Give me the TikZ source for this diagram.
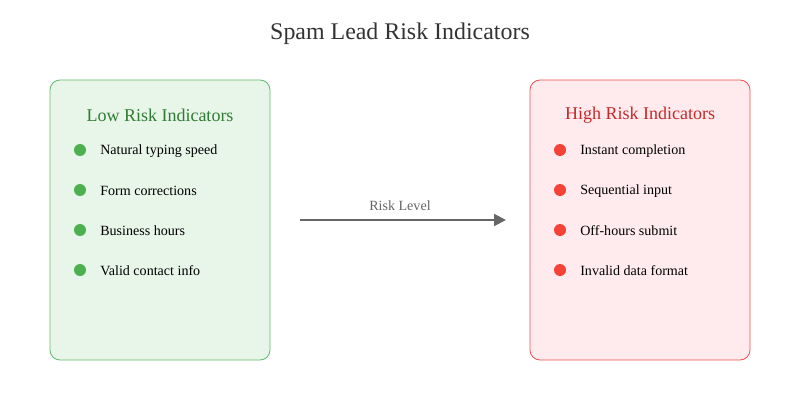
\documentclass[tikz,border=0pt]{standalone}
\usepackage{fontspec}
\setmainfont{Liberation Serif}
\usepackage{xcolor}
\usetikzlibrary{arrows.meta}
\definecolor{lowfill}{HTML}{E8F5E9}
\definecolor{lowline}{HTML}{66BB6A}
\definecolor{lowtext}{HTML}{2E7D32}
\definecolor{lowdot}{HTML}{4CAF50}
\definecolor{highfill}{HTML}{FFEBEE}
\definecolor{highline}{HTML}{EF5350}
\definecolor{hightext}{HTML}{C62828}
\definecolor{highdot}{HTML}{F44336}
\definecolor{arrowgray}{HTML}{666666}
\tikzset{
  panel/.style={rounded corners=10*0.025cm, line width=0.6pt},
  item/.style={anchor=west, inner sep=0pt, font=\fontsize{10}{12}\selectfont},
  head/.style={font=\fontsize{12.8}{15}\selectfont},
}
\begin{document}
\begin{tikzpicture}[x=0.025cm, y=-0.025cm]
		\useasboundingbox (0,0) rectangle (800,400);
		\node[font=\fontsize{17}{20}\selectfont, text=black!80] (title) at (400,34) {Spam Lead Risk Indicators};
		
		\draw[panel, fill=lowfill, draw=lowline] (50,80) rectangle (270,360);
		\draw[panel, fill=highfill, draw=highline] (530,80) rectangle (750,360);
		
		\node[head, text=lowtext] (lowhead) at (160,115) {Low Risk Indicators};
		\node[head, text=hightext] (highhead) at (640,115) {High Risk Indicators};
		
		\foreach \t [count=\i] in {Natural typing speed, Form corrections, Business hours, Valid contact info}{
			\fill[lowdot] (80,110+40*\i) circle (6);
			\node[item] (low\i) at (100,111+40*\i) {\t};
		}
		\foreach \t [count=\i] in {Instant completion, Sequential input, Off-hours submit, Invalid data format}{
			\fill[highdot] (560,110+40*\i) circle (6);
			\node[item] (high\i) at (580,111+40*\i) {\t};
		}
		
		\coordinate (riskstart) at (300,220);
		\coordinate (riskend) at (506,220);
		\draw[line width=1.4pt, arrowgray, -{Triangle[length=12*0.025cm, width=12*0.025cm]}] (riskstart) -- (riskend);
		\node[item, anchor=center, text=arrowgray] (risklabel) at (400,206) {Risk Level};
\end{tikzpicture}
\end{document}
